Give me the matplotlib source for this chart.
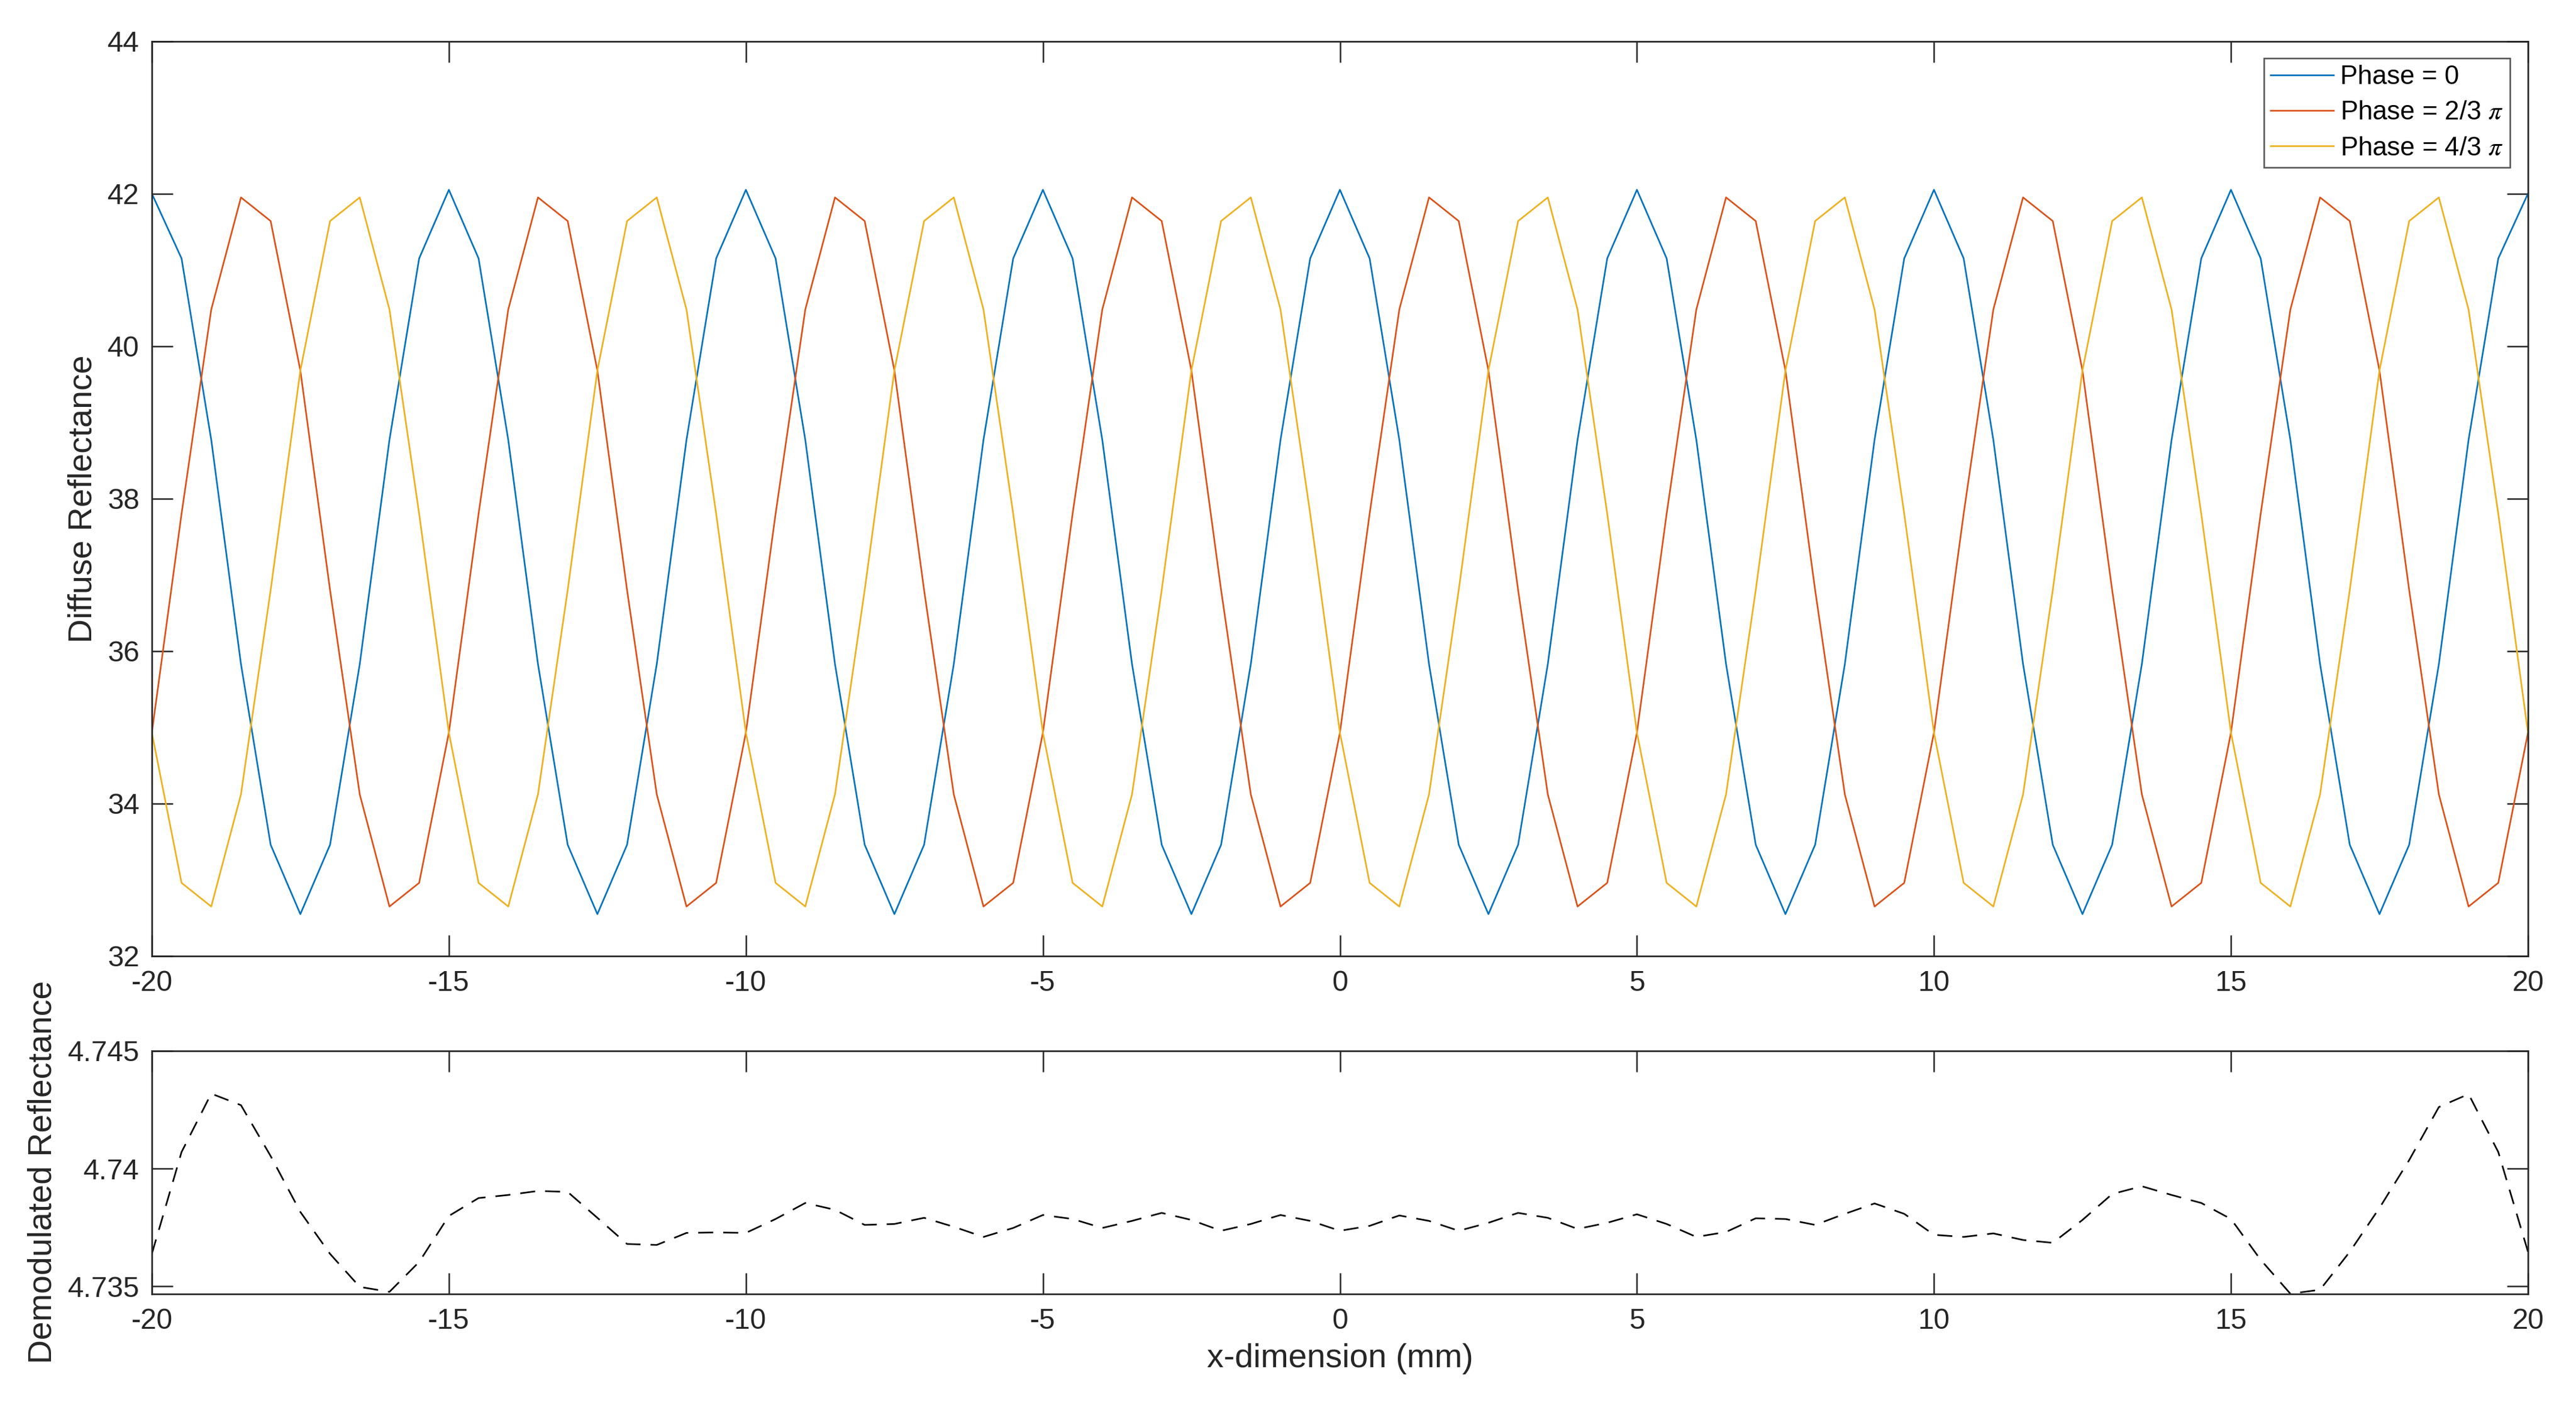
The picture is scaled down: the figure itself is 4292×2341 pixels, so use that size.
import matplotlib
matplotlib.use("Agg")
import matplotlib.pyplot as plt

plt.rcParams['font.family'] = ['Liberation Sans', 'DejaVu Sans']
plt.rcParams['mathtext.fontset'] = 'stix'
plt.rcParams['lines.scale_dashes'] = False
plt.rcParams['axes.unicode_minus'] = False

# ---------------- data ----------------
x_mm = [-20.0, -19.5, -19.0, -18.5, -18.0, -17.5, -17.0, -16.5, -16.0, -15.5,
        -15.0, -14.5, -14.0, -13.5, -13.0, -12.5, -12.0, -11.5, -11.0, -10.5,
        -10.0, -9.5, -9.0, -8.5, -8.0, -7.5, -7.0, -6.5, -6.0, -5.5,
        -5.0, -4.5, -4.0, -3.5, -3.0, -2.5, -2.0, -1.5, -1.0, -0.5,
        0.0, 0.5, 1.0, 1.5, 2.0, 2.5, 3.0, 3.5, 4.0, 4.5,
        5.0, 5.5, 6.0, 6.5, 7.0, 7.5, 8.0, 8.5, 9.0, 9.5,
        10.0, 10.5, 11.0, 11.5, 12.0, 12.5, 13.0, 13.5, 14.0, 14.5,
        15.0, 15.5, 16.0, 16.5, 17.0, 17.5, 18.0, 18.5, 19.0, 19.5,
        20.0]

phase_0 = [42.00, 41.15, 38.77, 35.83, 33.46, 32.55, 33.46, 35.83, 38.77, 41.15,
           42.05, 41.15, 38.77, 35.83, 33.46, 32.55, 33.46, 35.83, 38.77, 41.15,
           42.05, 41.15, 38.77, 35.83, 33.46, 32.55, 33.46, 35.83, 38.77, 41.15,
           42.05, 41.15, 38.77, 35.83, 33.46, 32.55, 33.46, 35.83, 38.77, 41.15,
           42.05, 41.15, 38.77, 35.83, 33.46, 32.55, 33.46, 35.83, 38.77, 41.15,
           42.05, 41.15, 38.77, 35.83, 33.46, 32.55, 33.46, 35.83, 38.77, 41.15,
           42.05, 41.15, 38.77, 35.83, 33.46, 32.55, 33.46, 35.83, 38.77, 41.15,
           42.05, 41.15, 38.77, 35.83, 33.46, 32.55, 33.46, 35.83, 38.77, 41.15,
           42.00]

phase_2_3 = [34.93, 37.80, 40.48, 41.95, 41.64, 39.68, 36.80, 34.12, 32.65, 32.96,
             34.93, 37.80, 40.48, 41.95, 41.64, 39.68, 36.80, 34.12, 32.65, 32.96,
             34.93, 37.80, 40.48, 41.95, 41.64, 39.68, 36.80, 34.12, 32.65, 32.96,
             34.93, 37.80, 40.48, 41.95, 41.64, 39.68, 36.80, 34.12, 32.65, 32.96,
             34.93, 37.80, 40.48, 41.95, 41.64, 39.68, 36.80, 34.12, 32.65, 32.96,
             34.93, 37.80, 40.48, 41.95, 41.64, 39.68, 36.80, 34.12, 32.65, 32.96,
             34.93, 37.80, 40.48, 41.95, 41.64, 39.68, 36.80, 34.12, 32.65, 32.96,
             34.93, 37.80, 40.48, 41.95, 41.64, 39.68, 36.80, 34.12, 32.65, 32.96,
             34.93]

phase_4_3 = [34.93, 32.96, 32.65, 34.12, 36.80, 39.68, 41.64, 41.95, 40.48, 37.80,
             34.93, 32.96, 32.65, 34.12, 36.80, 39.68, 41.64, 41.95, 40.48, 37.80,
             34.93, 32.96, 32.65, 34.12, 36.80, 39.68, 41.64, 41.95, 40.48, 37.80,
             34.93, 32.96, 32.65, 34.12, 36.80, 39.68, 41.64, 41.95, 40.48, 37.80,
             34.93, 32.96, 32.65, 34.12, 36.80, 39.68, 41.64, 41.95, 40.48, 37.80,
             34.93, 32.96, 32.65, 34.12, 36.80, 39.68, 41.64, 41.95, 40.48, 37.80,
             34.93, 32.96, 32.65, 34.12, 36.80, 39.68, 41.64, 41.95, 40.48, 37.80,
             34.93, 32.96, 32.65, 34.12, 36.80, 39.68, 41.64, 41.95, 40.48, 37.80,
             34.93]

demodulated = [4.73638, 4.74070, 4.74318, 4.74269, 4.74053, 4.73816, 4.73638, 4.73498, 4.73477, 4.73604,
               4.73799, 4.73875, 4.73888, 4.73905, 4.73901, 4.73791, 4.73680, 4.73676, 4.73727, 4.73729,
               4.73727, 4.73786, 4.73854, 4.73825, 4.73761, 4.73765, 4.73791, 4.73753, 4.73710, 4.73748,
               4.73803, 4.73786, 4.73748, 4.73778, 4.73812, 4.73782, 4.73736, 4.73765, 4.73803, 4.73778,
               4.73736, 4.73757, 4.73801, 4.73778, 4.73736, 4.73770, 4.73812, 4.73791, 4.73744, 4.73770,
               4.73806, 4.73765, 4.73710, 4.73731, 4.73789, 4.73786, 4.73761, 4.73808, 4.73852, 4.73808,
               4.73719, 4.73710, 4.73725, 4.73697, 4.73685, 4.73782, 4.73892, 4.73925, 4.73888, 4.73854,
               4.73786, 4.73613, 4.73469, 4.73486, 4.73647, 4.73833, 4.74036, 4.74261, 4.74316, 4.74070,
               4.73647]

series_labels = ['Phase = 0', r'Phase = 2/3 $\pi$', r'Phase = 4/3 $\pi$']
series_colors = ['#0072BD', '#D95319', '#EDB120']

x_ticks = [-20, -15, -10, -5, 0, 5, 10, 15, 20]
top_yticks = [32, 34, 36, 38, 40, 42, 44]
bot_yticks = [4.735, 4.74, 4.745]
bot_yticklabels = ['4.735', '4.74', '4.745']

# ---------------- figure ----------------
W, H, DPI = 4292, 2341, 300
fig = plt.figure(figsize=(W / DPI, H / DPI), dpi=DPI)

AX_COLOR = '#262626'
left = 253 / W
width = (4212 - 253) / W
ax1 = fig.add_axes([left, (H - 1593) / H, width, (1593 - 68.5) / H])
ax2 = fig.add_axes([left, (H - 2156) / H, width, (2156 - 1750.7) / H])

for ys, c, lab in zip([phase_0, phase_2_3, phase_4_3], series_colors, series_labels):
    ax1.plot(x_mm, ys, color=c, lw=0.65, label=lab)

ax2.plot(x_mm, demodulated, color='black', lw=0.65, linestyle='--', dashes=(6.0, 4.0))

ax1.set_xlim(-20, 20)
ax1.set_ylim(32, 44)
ax1.set_xticks(x_ticks)
ax1.set_yticks(top_yticks)

ax2.set_xlim(-20, 20)
ax2.set_ylim(4.73468, 4.745)
ax2.set_xticks(x_ticks)
ax2.set_yticks(bot_yticks)
ax2.set_yticklabels(bot_yticklabels)

for ax in (ax1, ax2):
    for sp in ax.spines.values():
        sp.set_linewidth(0.65)
        sp.set_color(AX_COLOR)
    ax.tick_params(axis='both', which='major', direction='in', top=True, right=True,
                   length=8.4, width=0.6, color=AX_COLOR, labelcolor=AX_COLOR,
                   labelsize=11.5)
    ax.tick_params(axis='x', pad=5.5)
    ax.tick_params(axis='y', pad=5)

ax1.set_ylabel('Diffuse Reflectance', fontsize=13.3, color=AX_COLOR, labelpad=3.5)
ax2.set_ylabel('Demodulated Reflectance', fontsize=13.3, color=AX_COLOR, labelpad=3.5)
ax2.set_xlabel('x-dimension (mm)', fontsize=13.3, color=AX_COLOR, labelpad=3.4)

leg = ax1.legend(loc='upper right', bbox_to_anchor=((4182 - 253) / (4212 - 253), (1593 - 97) / (1593 - 68.5)),
                 borderaxespad=0, fontsize=10.5, frameon=True, fancybox=False,
                 handlelength=2.4, handletextpad=0.25, labelspacing=0.42,
                 borderpad=0.25, edgecolor=AX_COLOR)
leg.get_frame().set_linewidth(0.6)
for t in leg.get_texts():
    t.set_color('black')

fig.savefig('out.png', dpi=DPI, facecolor='white')
